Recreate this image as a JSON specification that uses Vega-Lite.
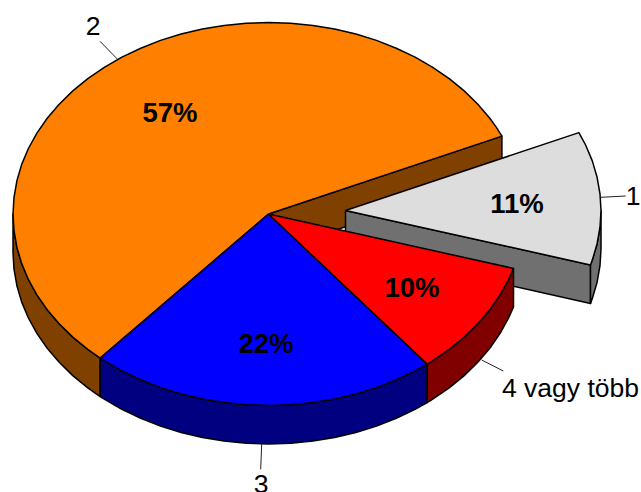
{"$schema":"https://vega.github.io/schema/vega-lite/v6.json","width":641,"height":492,"padding":0,"autosize":{"type":"none"},"background":"white","view":{"stroke":null},
"datasets":{"shapes":[
{"p":"a","i":1,"x":268.5,"y":214},{"p":"a","i":2,"x":501.9,"y":136.1},{"p":"a","i":3,"x":501.9,"y":174.6},{"p":"a","i":4,"x":268.5,"y":252.5},{"p":"a","i":5,"x":268.5,"y":214},
{"p":"b","i":1,"x":345.5,"y":210.5},{"p":"b","i":2,"x":590.5,"y":264.9},{"p":"b","i":3,"x":590.5,"y":303.4},{"p":"b","i":4,"x":345.5,"y":249},{"p":"b","i":5,"x":345.5,"y":210.5},
{"p":"c","i":1,"x":590.5,"y":264.9},{"p":"c","i":2,"x":592.3,"y":260.1},{"p":"c","i":3,"x":597.1,"y":243.7},{"p":"c","i":4,"x":600,"y":227.2},{"p":"c","i":5,"x":601,"y":210.5},{"p":"c","i":6,"x":601,"y":249},{"p":"c","i":7,"x":600,"y":265.7},{"p":"c","i":8,"x":597.1,"y":282.2},{"p":"c","i":9,"x":592.3,"y":298.6},{"p":"c","i":10,"x":590.5,"y":303.4},{"p":"c","i":11,"x":590.5,"y":264.9},
{"p":"d","i":1,"x":345.5,"y":210.5},{"p":"d","i":2,"x":578.9,"y":132.6},{"p":"d","i":3,"x":585.6,"y":145},{"p":"d","i":4,"x":592.3,"y":160.9},{"p":"d","i":5,"x":597.1,"y":177.3},{"p":"d","i":6,"x":600,"y":193.8},{"p":"d","i":7,"x":601,"y":210.5},{"p":"d","i":8,"x":600,"y":227.2},{"p":"d","i":9,"x":597.1,"y":243.7},{"p":"d","i":10,"x":592.3,"y":260.1},{"p":"d","i":11,"x":590.5,"y":264.9},{"p":"d","i":12,"x":345.5,"y":210.5},
{"p":"e","i":1,"x":100.2,"y":358.1},{"p":"e","i":2,"x":87.8,"y":349.4},{"p":"e","i":3,"x":72.8,"y":337.1},{"p":"e","i":4,"x":59.2,"y":323.8},{"p":"e","i":5,"x":47.2,"y":309.75},{"p":"e","i":6,"x":36.9,"y":294.9},{"p":"e","i":7,"x":28.4,"y":279.5},{"p":"e","i":8,"x":21.7,"y":263.6},{"p":"e","i":9,"x":16.9,"y":247.2},{"p":"e","i":10,"x":14,"y":230.7},{"p":"e","i":11,"x":13,"y":214},{"p":"e","i":12,"x":13,"y":252.5},{"p":"e","i":13,"x":14,"y":269.2},{"p":"e","i":14,"x":16.9,"y":285.7},{"p":"e","i":15,"x":21.7,"y":302.1},{"p":"e","i":16,"x":28.4,"y":318},{"p":"e","i":17,"x":36.9,"y":333.4},{"p":"e","i":18,"x":47.2,"y":348.25},{"p":"e","i":19,"x":59.2,"y":362.3},{"p":"e","i":20,"x":72.8,"y":375.6},{"p":"e","i":21,"x":87.8,"y":387.9},{"p":"e","i":22,"x":100.2,"y":396.6},{"p":"e","i":23,"x":100.2,"y":358.1},
{"p":"f","i":1,"x":268.5,"y":214},{"p":"f","i":2,"x":100.2,"y":358.1},{"p":"f","i":3,"x":87.8,"y":349.4},{"p":"f","i":4,"x":72.8,"y":337.1},{"p":"f","i":5,"x":59.2,"y":323.8},{"p":"f","i":6,"x":47.2,"y":309.75},{"p":"f","i":7,"x":36.9,"y":294.9},{"p":"f","i":8,"x":28.4,"y":279.5},{"p":"f","i":9,"x":21.7,"y":263.6},{"p":"f","i":10,"x":16.9,"y":247.2},{"p":"f","i":11,"x":14,"y":230.7},{"p":"f","i":12,"x":13,"y":214},{"p":"f","i":13,"x":14,"y":197.3},{"p":"f","i":14,"x":16.9,"y":180.8},{"p":"f","i":15,"x":21.7,"y":164.4},{"p":"f","i":16,"x":28.4,"y":148.5},{"p":"f","i":17,"x":36.9,"y":133.1},{"p":"f","i":18,"x":47.2,"y":118.25},{"p":"f","i":19,"x":59.2,"y":104.2},{"p":"f","i":20,"x":72.8,"y":90.9},{"p":"f","i":21,"x":87.8,"y":78.6},{"p":"f","i":22,"x":104.3,"y":67.3},{"p":"f","i":23,"x":121.9,"y":57.1},{"p":"f","i":24,"x":140.75,"y":48.2},{"p":"f","i":25,"x":160.5,"y":40.4},{"p":"f","i":26,"x":181.1,"y":34},{"p":"f","i":27,"x":202.4,"y":29},{"p":"f","i":28,"x":224.1,"y":25.4},{"p":"f","i":29,"x":246.2,"y":23.2},{"p":"f","i":30,"x":268.5,"y":22.5},{"p":"f","i":31,"x":290.8,"y":23.2},{"p":"f","i":32,"x":312.9,"y":25.4},{"p":"f","i":33,"x":334.6,"y":29},{"p":"f","i":34,"x":355.9,"y":34},{"p":"f","i":35,"x":376.5,"y":40.4},{"p":"f","i":36,"x":396.25,"y":48.2},{"p":"f","i":37,"x":415.1,"y":57.1},{"p":"f","i":38,"x":432.7,"y":67.3},{"p":"f","i":39,"x":449.2,"y":78.6},{"p":"f","i":40,"x":464.2,"y":90.9},{"p":"f","i":41,"x":477.8,"y":104.2},{"p":"f","i":42,"x":489.8,"y":118.25},{"p":"f","i":43,"x":496.2,"y":127.1},{"p":"f","i":44,"x":501.9,"y":136.1},{"p":"f","i":45,"x":268.5,"y":214},
{"p":"g","i":1,"x":427.2,"y":364.1},{"p":"g","i":2,"x":415.1,"y":370.9},{"p":"g","i":3,"x":396.25,"y":379.8},{"p":"g","i":4,"x":376.5,"y":387.6},{"p":"g","i":5,"x":355.9,"y":394},{"p":"g","i":6,"x":334.6,"y":399},{"p":"g","i":7,"x":312.9,"y":402.6},{"p":"g","i":8,"x":290.8,"y":404.8},{"p":"g","i":9,"x":268.5,"y":405.5},{"p":"g","i":10,"x":246.2,"y":404.8},{"p":"g","i":11,"x":224.1,"y":402.6},{"p":"g","i":12,"x":202.4,"y":399},{"p":"g","i":13,"x":181.1,"y":394},{"p":"g","i":14,"x":160.5,"y":387.6},{"p":"g","i":15,"x":140.75,"y":379.8},{"p":"g","i":16,"x":121.9,"y":370.9},{"p":"g","i":17,"x":104.3,"y":360.7},{"p":"g","i":18,"x":100.2,"y":358.1},{"p":"g","i":19,"x":100.2,"y":396.6},{"p":"g","i":20,"x":104.3,"y":399.2},{"p":"g","i":21,"x":121.9,"y":409.4},{"p":"g","i":22,"x":140.75,"y":418.3},{"p":"g","i":23,"x":160.5,"y":426.1},{"p":"g","i":24,"x":181.1,"y":432.5},{"p":"g","i":25,"x":202.4,"y":437.5},{"p":"g","i":26,"x":224.1,"y":441.1},{"p":"g","i":27,"x":246.2,"y":443.3},{"p":"g","i":28,"x":268.5,"y":444},{"p":"g","i":29,"x":290.8,"y":443.3},{"p":"g","i":30,"x":312.9,"y":441.1},{"p":"g","i":31,"x":334.6,"y":437.5},{"p":"g","i":32,"x":355.9,"y":432.5},{"p":"g","i":33,"x":376.5,"y":426.1},{"p":"g","i":34,"x":396.25,"y":418.3},{"p":"g","i":35,"x":415.1,"y":409.4},{"p":"g","i":36,"x":427.2,"y":402.6},{"p":"g","i":37,"x":427.2,"y":364.1},
{"p":"h","i":1,"x":268.5,"y":214},{"p":"h","i":2,"x":427.2,"y":364.1},{"p":"h","i":3,"x":415.1,"y":370.9},{"p":"h","i":4,"x":396.25,"y":379.8},{"p":"h","i":5,"x":376.5,"y":387.6},{"p":"h","i":6,"x":355.9,"y":394},{"p":"h","i":7,"x":334.6,"y":399},{"p":"h","i":8,"x":312.9,"y":402.6},{"p":"h","i":9,"x":290.8,"y":404.8},{"p":"h","i":10,"x":268.5,"y":405.5},{"p":"h","i":11,"x":246.2,"y":404.8},{"p":"h","i":12,"x":224.1,"y":402.6},{"p":"h","i":13,"x":202.4,"y":399},{"p":"h","i":14,"x":181.1,"y":394},{"p":"h","i":15,"x":160.5,"y":387.6},{"p":"h","i":16,"x":140.75,"y":379.8},{"p":"h","i":17,"x":121.9,"y":370.9},{"p":"h","i":18,"x":104.3,"y":360.7},{"p":"h","i":19,"x":100.2,"y":358.1},{"p":"h","i":20,"x":268.5,"y":214},
{"p":"i","i":1,"x":513.5,"y":268.4},{"p":"i","i":2,"x":508.6,"y":279.5},{"p":"i","i":3,"x":500.1,"y":294.9},{"p":"i","i":4,"x":489.8,"y":309.75},{"p":"i","i":5,"x":477.8,"y":323.8},{"p":"i","i":6,"x":464.2,"y":337.1},{"p":"i","i":7,"x":449.2,"y":349.4},{"p":"i","i":8,"x":432.7,"y":360.7},{"p":"i","i":9,"x":427.2,"y":364.1},{"p":"i","i":10,"x":427.2,"y":402.6},{"p":"i","i":11,"x":432.7,"y":399.2},{"p":"i","i":12,"x":449.2,"y":387.9},{"p":"i","i":13,"x":464.2,"y":375.6},{"p":"i","i":14,"x":477.8,"y":362.3},{"p":"i","i":15,"x":489.8,"y":348.25},{"p":"i","i":16,"x":500.1,"y":333.4},{"p":"i","i":17,"x":508.6,"y":318},{"p":"i","i":18,"x":513.5,"y":306.9},{"p":"i","i":19,"x":513.5,"y":268.4},
{"p":"j","i":1,"x":268.5,"y":214},{"p":"j","i":2,"x":513.5,"y":268.4},{"p":"j","i":3,"x":508.6,"y":279.5},{"p":"j","i":4,"x":500.1,"y":294.9},{"p":"j","i":5,"x":489.8,"y":309.75},{"p":"j","i":6,"x":477.8,"y":323.8},{"p":"j","i":7,"x":464.2,"y":337.1},{"p":"j","i":8,"x":449.2,"y":349.4},{"p":"j","i":9,"x":432.7,"y":360.7},{"p":"j","i":10,"x":427.2,"y":364.1},{"p":"j","i":11,"x":268.5,"y":214}
],
"leaders":[
{"c":"1","i":1,"x":600.7,"y":197.3},{"c":"1","i":2,"x":625.7,"y":196},
{"c":"2","i":1,"x":117.3,"y":59},{"c":"2","i":2,"x":100,"y":41.3},
{"c":"3","i":1,"x":261.7,"y":444},{"c":"3","i":2,"x":260.7,"y":469.3},
{"c":"4","i":1,"x":481.7,"y":360},{"c":"4","i":2,"x":503.3,"y":371}],
"pct":[{"t":"57%","x":170,"y":113},{"t":"11%","x":517,"y":204},{"t":"10%","x":412,"y":288},{"t":"22%","x":266,"y":344}],
"cats":[{"t":"1","x":633,"y":197},{"t":"2","x":93,"y":27},{"t":"3","x":261,"y":485},{"t":"4 vagy több","x":570.5,"y":389}]},
"layer":[
{"data":{"name":"shapes"},"mark":{"type":"line","stroke":"black","strokeWidth":1.5,"strokeJoin":"round"},"encoding":{
"x":{"field":"x","type":"quantitative","scale":{"domain":[0,641],"nice":false,"zero":false},"axis":null},
"y":{"field":"y","type":"quantitative","scale":{"domain":[492,0],"nice":false,"zero":false},"axis":null},
"detail":{"field":"p"},"order":{"field":"i","type":"quantitative"},
"fill":{"field":"p","type":"nominal","legend":null,"scale":{"domain":["a","b","c","d","e","f","g","h","i","j"],"range":["#804000","#707070","#707070","#DDDDDD","#804000","#FF8000","#000080","#0000FF","#800000","#FF0000"]}}}},
{"data":{"name":"leaders"},"mark":{"type":"line","stroke":"#222222","strokeWidth":1},"encoding":{
"x":{"field":"x","type":"quantitative","scale":{"domain":[0,641],"nice":false,"zero":false},"axis":null},
"y":{"field":"y","type":"quantitative","scale":{"domain":[492,0],"nice":false,"zero":false},"axis":null},
"detail":{"field":"c"},"order":{"field":"i","type":"quantitative"}}},
{"data":{"name":"pct"},"mark":{"type":"text","font":"Liberation Sans","fontWeight":"bold","fontSize":27.5,"color":"black","baseline":"middle","align":"center","dy":1},"encoding":{
"x":{"field":"x","type":"quantitative","scale":{"domain":[0,641],"nice":false,"zero":false},"axis":null},
"y":{"field":"y","type":"quantitative","scale":{"domain":[492,0],"nice":false,"zero":false},"axis":null},
"text":{"field":"t"}}},
{"data":{"name":"cats"},"mark":{"type":"text","font":"Liberation Sans","fontSize":26.5,"color":"black","baseline":"middle","align":"center"},"encoding":{
"x":{"field":"x","type":"quantitative","scale":{"domain":[0,641],"nice":false,"zero":false},"axis":null},
"y":{"field":"y","type":"quantitative","scale":{"domain":[492,0],"nice":false,"zero":false},"axis":null},
"text":{"field":"t"}}}
]}
